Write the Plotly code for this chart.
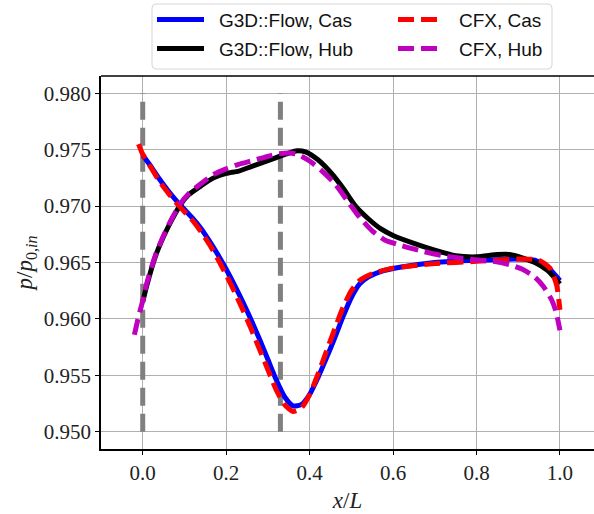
import plotly.graph_objects as go

# Static pressure along the passage, casing and hub, two solvers
x_g3d_cas = [0.0, 0.02, 0.04, 0.06, 0.08, 0.10, 0.12, 0.14, 0.16, 0.18, 0.20, 0.22, 0.24, 0.26, 0.28, 0.30, 0.32, 0.34, 0.36, 0.38, 0.40, 0.42, 0.44, 0.46, 0.48, 0.50, 0.52, 0.54, 0.57, 0.62, 0.70, 0.80, 0.90, 0.94, 0.97, 1.0]
p_g3d_cas = [0.9745, 0.9735, 0.9724, 0.9714, 0.9705, 0.9697, 0.9689, 0.9680, 0.9669, 0.9657, 0.9644, 0.9630, 0.9615, 0.9599, 0.9582, 0.9564, 0.9546, 0.9531, 0.9523, 0.9524, 0.9533, 0.9548, 0.9565, 0.9583, 0.9602, 0.9619, 0.9631, 0.9637, 0.9642, 0.9646, 0.9650, 0.9652, 0.9653, 0.9652, 0.9646, 0.9634]

x_cfx_cas = [-0.01, 0.0, 0.02, 0.04, 0.06, 0.08, 0.10, 0.12, 0.14, 0.16, 0.18, 0.20, 0.22, 0.24, 0.26, 0.28, 0.30, 0.32, 0.34, 0.36, 0.38, 0.40, 0.42, 0.44, 0.46, 0.48, 0.50, 0.52, 0.55, 0.60, 0.70, 0.80, 0.90, 0.95, 0.976, 0.992, 1.0]
p_cfx_cas = [0.9755, 0.9746, 0.9734, 0.9722, 0.9712, 0.9703, 0.9695, 0.9687, 0.9677, 0.9666, 0.9653, 0.9639, 0.9624, 0.9608, 0.9591, 0.9573, 0.9555, 0.9537, 0.9524, 0.9518, 0.9521, 0.9533, 0.9551, 0.9571, 0.9591, 0.9610, 0.9625, 0.9634, 0.9640, 0.9645, 0.9649, 0.9651, 0.9653, 0.9652, 0.9645, 0.9630, 0.9608]

x_g3d_hub = [0.0, 0.01, 0.03, 0.05, 0.07, 0.09, 0.11, 0.14, 0.17, 0.20, 0.23, 0.26, 0.29, 0.32, 0.35, 0.37, 0.39, 0.42, 0.45, 0.48, 0.51, 0.54, 0.57, 0.60, 0.65, 0.70, 0.75, 0.80, 0.85, 0.88, 0.91, 0.94, 0.97, 1.0]
p_g3d_hub = [0.9615, 0.9630, 0.9655, 0.9673, 0.9688, 0.9701, 0.9710, 0.9718, 0.9725, 0.9729, 0.9731, 0.9735, 0.9739, 0.9743, 0.9747, 0.9749, 0.9748, 0.9741, 0.9730, 0.9716, 0.9700, 0.9689, 0.9680, 0.9674, 0.9667, 0.9661, 0.9656, 0.9655, 0.9657, 0.9657, 0.9654, 0.9650, 0.9643, 0.9631]

x_cfx_hub = [-0.02, -0.01, 0.0, 0.01, 0.03, 0.05, 0.07, 0.09, 0.11, 0.14, 0.17, 0.20, 0.23, 0.26, 0.29, 0.32, 0.35, 0.37, 0.40, 0.43, 0.46, 0.49, 0.52, 0.55, 0.58, 0.62, 0.67, 0.72, 0.78, 0.84, 0.88, 0.91, 0.94, 0.96, 0.98, 0.99, 1.0]
p_cfx_hub = [0.9586, 0.9602, 0.9616, 0.9632, 0.9656, 0.9674, 0.9689, 0.9702, 0.9711, 0.9720, 0.9728, 0.9733, 0.9737, 0.9740, 0.9743, 0.9746, 0.9747, 0.9746, 0.9740, 0.9731, 0.9720, 0.9705, 0.9690, 0.9678, 0.9670, 0.9665, 0.9660, 0.9656, 0.9653, 0.9651, 0.9648, 0.9644, 0.9637, 0.9629, 0.9617, 0.9607, 0.9590]

# Blade-row boundaries
x_marks = [0.0, 0.33]
p_mark_span = [0.950, 0.980]

x_ticks = [0.0, 0.2, 0.4, 0.6, 0.8, 1.0]
y_ticks = [0.950, 0.955, 0.960, 0.965, 0.970, 0.975, 0.980]

W, H = 594, 514
ML, MR, MT, MB = 101, 0, 76, 65
PW, PH = W - ML - MR, H - MT - MB


def px_x(px):
    return (px - ML) / PW


def px_y(py):
    return (H - MB - py) / PH


fig = go.Figure()

for xm in x_marks:
    fig.add_trace(go.Scatter(
        x=[xm, xm], y=p_mark_span, mode="lines", showlegend=False,
        line=dict(color="#808080", width=5, dash="18px,8px"), hoverinfo="skip"))

# name, x, y, colour, dash, legend column, legend row
series = [
    ("G3D::Flow, Cas", x_g3d_cas, p_g3d_cas, "#0000ff", "solid", 0, 0),
    ("G3D::Flow, Hub", x_g3d_hub, p_g3d_hub, "#000000", "solid", 0, 1),
    ("CFX, Cas", x_cfx_cas, p_cfx_cas, "#ff0000", "16px,7px", 1, 0),
    ("CFX, Hub", x_cfx_hub, p_cfx_hub, "#bf00bf", "16px,7px", 1, 1),
]
for name, xs, ys, col, dash, _, _ in series:
    fig.add_trace(go.Scatter(
        x=xs, y=ys, name=name, mode="lines", showlegend=False,
        line=dict(color=col, width=5, dash=dash, shape="spline", smoothing=0.6)))

# Two-column legend box above the axes
lx0, lx1, ly0, ly1, r = 152, 552, 4, 69, 4
box_path = (
    f"M {px_x(lx0 + r)},{px_y(ly0)} L {px_x(lx1 - r)},{px_y(ly0)} "
    f"Q {px_x(lx1)},{px_y(ly0)} {px_x(lx1)},{px_y(ly0 + r)} "
    f"L {px_x(lx1)},{px_y(ly1 - r)} Q {px_x(lx1)},{px_y(ly1)} {px_x(lx1 - r)},{px_y(ly1)} "
    f"L {px_x(lx0 + r)},{px_y(ly1)} Q {px_x(lx0)},{px_y(ly1)} {px_x(lx0)},{px_y(ly1 - r)} "
    f"L {px_x(lx0)},{px_y(ly0 + r)} Q {px_x(lx0)},{px_y(ly0)} {px_x(lx0 + r)},{px_y(ly0)} Z"
)
shapes = [
    dict(type="line", xref="paper", yref="paper", x0=0, x1=1, y0=1, y1=1,
         line=dict(color="black", width=1.5)),
    dict(type="path", xref="paper", yref="paper", path=box_path,
         fillcolor="white", line=dict(color="#d6d6d6", width=1)),
]
annotations = []
col_sample_x = [(157, 204), (398, 437)]
col_text_x = [217, 457]
row_y = [19.5, 48.5]
for name, _, _, col, dash, c, rr in series:
    sx0, sx1 = col_sample_x[c]
    shapes.append(dict(
        type="line", xref="paper", yref="paper",
        x0=px_x(sx0), x1=px_x(sx1), y0=px_y(row_y[rr]), y1=px_y(row_y[rr]),
        line=dict(color=col, width=5, dash=dash)))
    annotations.append(dict(
        text=name, xref="paper", yref="paper", x=px_x(col_text_x[c]), y=px_y(row_y[rr] + 1),
        xanchor="left", yanchor="middle", showarrow=False,
        font=dict(family="Liberation Sans", size=19, color="#111111")))

tick_font = dict(family="Liberation Serif", size=21, color="#222222")
fig.update_layout(
    width=W, height=H,
    margin=dict(l=ML, r=MR, t=MT, b=MB),
    plot_bgcolor="white", paper_bgcolor="white",
    showlegend=False,
    xaxis=dict(
        range=[-0.1, 1.0816], tickvals=x_ticks, ticktext=[f"{v:.1f}" for v in x_ticks],
        showgrid=True, gridcolor="#b0b0b0", gridwidth=1, zeroline=False,
        showline=True, linecolor="black", linewidth=1.5,
        ticks="outside", ticklen=4, tickcolor="black", tickfont=tick_font,
        title=dict(text="<i>x</i>/<i>L</i>", font=dict(family="Liberation Serif", size=23, color="#222222"), standoff=8)),
    yaxis=dict(
        range=[0.94847, 0.98153], tickvals=y_ticks, ticktext=[f"{v:.3f}" for v in y_ticks],
        showgrid=True, gridcolor="#b0b0b0", gridwidth=1, zeroline=False,
        showline=True, linecolor="black", linewidth=1.5,
        ticks="outside", ticklen=4, tickcolor="black", tickfont=tick_font,
        title=dict(text="<i>p</i>/<i>p</i><sub>0,<i>in</i></sub>", font=dict(family="Liberation Serif", size=23, color="#222222"), standoff=5)),
    shapes=shapes,
    annotations=annotations,
)

fig.write_html("out.html")
